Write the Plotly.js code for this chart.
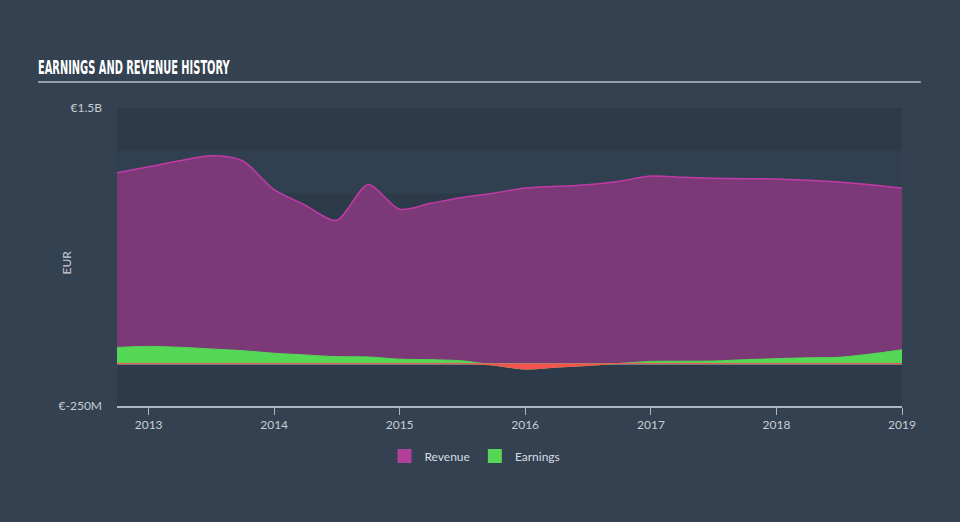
<!DOCTYPE html>
<html>
<head>
<meta charset="utf-8">
<script src="https://cdn.plot.ly/plotly-3.0.1.min.js"></script>
<style>
html,body{margin:0;padding:0;background:#334151;}
#chart{width:960px;height:522px;}
</style>
</head>
<body>
<div id="chart"></div>
<script>
// Quarter dates
var dates = ['2012-10-01','2013-01-01','2013-04-01','2013-07-01','2013-10-01',
  '2014-01-01','2014-04-01','2014-07-01','2014-10-01',
  '2015-01-01','2015-04-01','2015-07-01','2015-10-01',
  '2016-01-01','2016-04-01','2016-07-01','2016-10-01',
  '2017-01-01','2017-04-01','2017-07-01','2017-10-01',
  '2018-01-01','2018-04-01','2018-07-01','2018-10-01',
  '2019-01-01'];
// Revenue in EUR (billions)
var revenue = [1.12,1.155,1.19,1.22,1.19,
  1.02,0.93,0.84,1.05,
  0.905,0.94,0.975,1.0,
  1.03,1.04,1.05,1.07,
  1.10,1.094,1.088,1.085,
  1.083,1.075,1.065,1.05,
  1.03];
// Earnings in EUR (billions)
var earnings = [0.094,0.10,0.095,0.085,0.075,
  0.06,0.05,0.04,0.038,
  0.025,0.022,0.015,-0.01,
  -0.033,-0.022,-0.012,0.0,
  0.012,0.013,0.014,0.022,
  0.028,0.033,0.036,0.055,
  0.08];
var yTickVals = [-0.25, 1.5];
var yTickText = ['€-250M', '€1.5B'];
var bandEdges = [-0.25, 0, 0.25, 0.5, 0.75, 1.0, 1.25, 1.5];

var earningsNeg = earnings.map(function(v){ return Math.min(v, 0); });

var traces = [
  {x: dates, y: revenue, name: 'Revenue', type: 'scatter', mode: 'lines', showlegend: false,
   line: {color: '#c23aa6', width: 1.5, shape: 'spline', smoothing: 0.8},
   fill: 'tozeroy', fillcolor: '#7b3a77'},
  {x: dates, y: earnings, name: 'Earnings', type: 'scatter', mode: 'lines', showlegend: false,
   line: {color: '#55d855', width: 1, shape: 'spline', smoothing: 0.8},
   fill: 'tozeroy', fillcolor: '#55d855'},
  {x: dates, y: earningsNeg, name: 'Loss', type: 'scatter', mode: 'lines', showlegend: false,
   line: {color: '#f4544f', width: 1, shape: 'spline', smoothing: 0.8},
   fill: 'tozeroy', fillcolor: '#f4544f', hoverinfo: 'skip'},
  // legend proxies (square swatches)
  {x: [dates[0]], y: [null], name: 'Revenue', type: 'scatter', mode: 'markers',
   marker: {symbol: 'square', size: 14, color: '#b0409a'}},
  {x: [dates[0]], y: [null], name: 'Earnings', type: 'scatter', mode: 'markers',
   marker: {symbol: 'square', size: 14, color: '#55d855'}}
];

var shapes = [];
for (var i = 0; i < bandEdges.length - 1; i++) {
  if (i % 2 === 0) {
    shapes.push({type: 'rect', xref: 'paper', yref: 'y', x0: 0, x1: 1,
      y0: bandEdges[i], y1: bandEdges[i+1], fillcolor: '#2c3a49',
      line: {width: 0}, layer: 'below'});
  }
}
shapes.push({type: 'line', xref: 'paper', yref: 'paper', x0: -0.1006, x1: 1.024,
  y0: 1.087, y1: 1.087, line: {color: '#b9c0c8', width: 1.5}});
shapes.push({type: 'line', xref: 'paper', yref: 'y', x0: 0, x1: 1, y0: 0, y1: 0,
  line: {color: '#bdbdbd', width: 2}, layer: 'below'});

var layout = {
  width: 960, height: 522,
  margin: {l: 117, r: 58, t: 108, b: 116},
  paper_bgcolor: '#334151',
  plot_bgcolor: '#314050',
  font: {family: 'Lato, "Open Sans", sans-serif', color: '#c9ced4', size: 12},
  title: {text: 'EARNINGS AND REVENUE HISTORY', xref: 'container', yref: 'container',
    x: 38/960, xanchor: 'left', y: 1 - 67/522, yanchor: 'middle',
    font: {family: '"DejaVu Sans", sans-serif', size: 19, color: '#ffffff', weight: 'bold'}},
  xaxis: {type: 'date', range: ['2012-10-01', '2019-01-01'],
    dtick: 'M12', tick0: '2013-01-01', tickformat: '%Y',
    ticks: 'outside', ticklen: 7, tickcolor: '#a9b8c8', tickwidth: 1,
    showline: true, linecolor: '#a9b8c8', linewidth: 1.5,
    showgrid: false, zeroline: false,
    tickfont: {size: 12, color: '#c9ced4'}},
  yaxis: {range: [-0.25, 1.5], tickvals: yTickVals, ticktext: yTickText,
    showgrid: false, zeroline: false, showline: false, ticks: '',
    ticklabelstandoff: 14, tickfont: {size: 12, color: '#c9ced4'}},
  shapes: shapes,
  annotations: [{text: 'EUR', xref: 'paper', yref: 'paper', x: (57-117)/785, y: 0.48,
    textangle: -90, showarrow: false, font: {size: 12, color: '#c9ced4'}}],
  showlegend: true,
  legend: {orientation: 'h', x: 0.456, xanchor: 'center', y: -0.168, yanchor: 'middle',
    font: {size: 12, color: '#d8dce0'}, bgcolor: 'rgba(0,0,0,0)', itemwidth: 30}
};

Plotly.newPlot('chart', traces, layout, {displayModeBar: false, staticPlot: true}).then(function(gd){
  // condense the title horizontally to mimic the narrow display face
  var t = gd.querySelector('.gtitle');
  if (t) {
    var bb = t.getBBox();
    var target = 192;
    var sx = target / bb.width;
    var x0 = bb.x;
    t.setAttribute('transform', 'translate(' + x0 + ',0) scale(' + sx + ',1) translate(' + (-x0) + ',0)');
  }
});
</script>
</body>
</html>
